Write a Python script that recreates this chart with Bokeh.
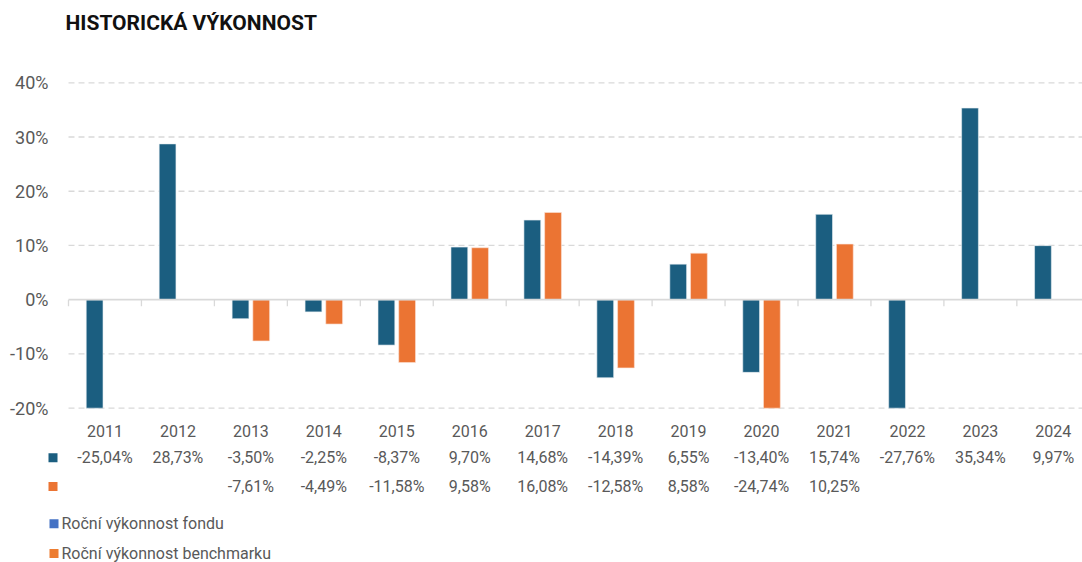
import numpy as np
from bokeh.plotting import figure
from bokeh.models import Range1d
from bokeh.core.properties import value
from bokeh.embed import file_html
from bokeh.resources import INLINE

# ---------------- data ----------------
years = ["2011", "2012", "2013", "2014", "2015", "2016", "2017",
         "2018", "2019", "2020", "2021", "2022", "2023", "2024"]
fund = [-25.04, 28.73, -3.50, -2.25, -8.37, 9.70, 14.68,
        -14.39, 6.55, -13.40, 15.74, -27.76, 35.34, 9.97]
benchmark = [np.nan, np.nan, -7.61, -4.49, -11.58, 9.58, 16.08,
             -12.58, 8.58, -24.74, 10.25, np.nan, np.nan, np.nan]
y_ticks = [-20, -10, 0, 10, 20, 30, 40]
series_names = ["Roční výkonnost fondu", "Roční výkonnost benchmarku"]
title_text = "HISTORICKÁ VÝKONNOST"

# ---------------- style ----------------
FUND_COLOR = "#1B5E80"
BENCH_COLOR = "#EB7433"
LEG_FUND_COLOR = "#4472C4"
LEG_BENCH_COLOR = "#ED7D31"
TEXT_COLOR = "#595959"
GRID_COLOR = "#D9D9D9"
FONT = value("Roboto")
AXIS_MIN = y_ticks[0]

W, H = 1082, 562
# layout helpers (page pixel -> data coordinates)
CAT_PX = 72.95
FRAME_LEFT_PX = 68.0
ZERO_PX = 299.2
PCT_PX = 5.423


def dx(px):
    return -0.5 + (px - FRAME_LEFT_PX) / CAT_PX


def dy(py):
    return (ZERO_PX - py) / PCT_PX


p = figure(width=W, height=H, output_backend="svg", toolbar_location=None,
           x_axis_location=None, y_axis_location=None,
           x_range=Range1d(dx(0), dx(W)), y_range=Range1d(dy(H), dy(0)),
           min_border=0, outline_line_color=None, background_fill_color="white",
           border_fill_color="white")
p.grid.visible = False

n = len(years)
idx = np.arange(n)
x_left_end = -0.5
x_right_end = dx(W) + 1

# gridlines (dashed) and zero line
grid_vals = [t for t in y_ticks if t != 0]
p.segment(x0=[x_left_end] * len(grid_vals), x1=[x_right_end] * len(grid_vals),
          y0=grid_vals, y1=grid_vals, line_color=GRID_COLOR, line_width=1.3,
          line_dash="6 4")

# bars
fund_arr = np.array(fund)
bench_arr = np.array(benchmark)
BAR_W = 0.23
OFF = 0.142
p.vbar(x=idx - OFF, top=np.maximum(fund_arr, AXIS_MIN), bottom=0, width=BAR_W,
       fill_color=FUND_COLOR, line_color="#E8EEF2", line_width=0.6)
p.vbar(x=idx + OFF, top=np.maximum(bench_arr, AXIS_MIN), bottom=0, width=BAR_W,
       fill_color=BENCH_COLOR, line_color="#FBE3D6", line_width=0.6)

# zero axis line + category ticks
p.segment(x0=[x_left_end], x1=[x_right_end], y0=[0], y1=[0],
          line_color=GRID_COLOR, line_width=1.8)
tick_x = np.arange(n + 1) - 0.5
p.segment(x0=tick_x, x1=tick_x, y0=[0] * len(tick_x),
          y1=[-6.5 / PCT_PX] * len(tick_x), line_color=GRID_COLOR, line_width=1.3)

# y tick labels
p.text(x=[dx(48)] * len(y_ticks), y=y_ticks, text=[f"{t}%" for t in y_ticks],
       text_align="right", text_baseline="middle", text_font=FONT,
       text_font_size="18px", text_color=TEXT_COLOR)

# category labels
p.text(x=idx, y=[dy(430.7)] * n, text=years, text_align="center",
       text_baseline="middle", text_font=FONT, text_font_size="16px",
       text_color=TEXT_COLOR)


def fmt(v):
    if v is None or (isinstance(v, float) and np.isnan(v)):
        return ""
    return f"{v:.2f}".replace(".", ",") + "%"


# data table rows
p.text(x=idx, y=[dy(457.3)] * n, text=[fmt(v) for v in fund],
       text_align="center", text_baseline="middle", text_font=FONT,
       text_font_size="16px", text_color=TEXT_COLOR)
p.text(x=idx, y=[dy(486.0)] * n, text=[fmt(v) for v in benchmark],
       text_align="center", text_baseline="middle", text_font=FONT,
       text_font_size="16px", text_color=TEXT_COLOR)
p.rect(x=[dx(52.5), dx(52.5)], y=[dy(457.3), dy(486.0)], width=9, height=9,
       width_units="screen", height_units="screen",
       fill_color=[FUND_COLOR, BENCH_COLOR], line_color=None)

# legend
p.rect(x=[dx(53.5), dx(53.5)], y=[dy(523.3), dy(553.0)], width=9, height=9,
       width_units="screen", height_units="screen",
       fill_color=[LEG_FUND_COLOR, LEG_BENCH_COLOR], line_color=None)
p.text(x=[dx(61), dx(61)], y=[dy(523.3), dy(553.0)], text=series_names,
       text_align="left", text_baseline="middle", text_font=FONT,
       text_font_size="16px", text_color=TEXT_COLOR)

# title
p.text(x=[dx(65)], y=[dy(22)], text=[title_text], text_align="left",
       text_baseline="middle", text_font=FONT, text_font_size="21px",
       text_font_style="bold", text_color="#111111")

open("out.html", "w").write(file_html(p, INLINE))
